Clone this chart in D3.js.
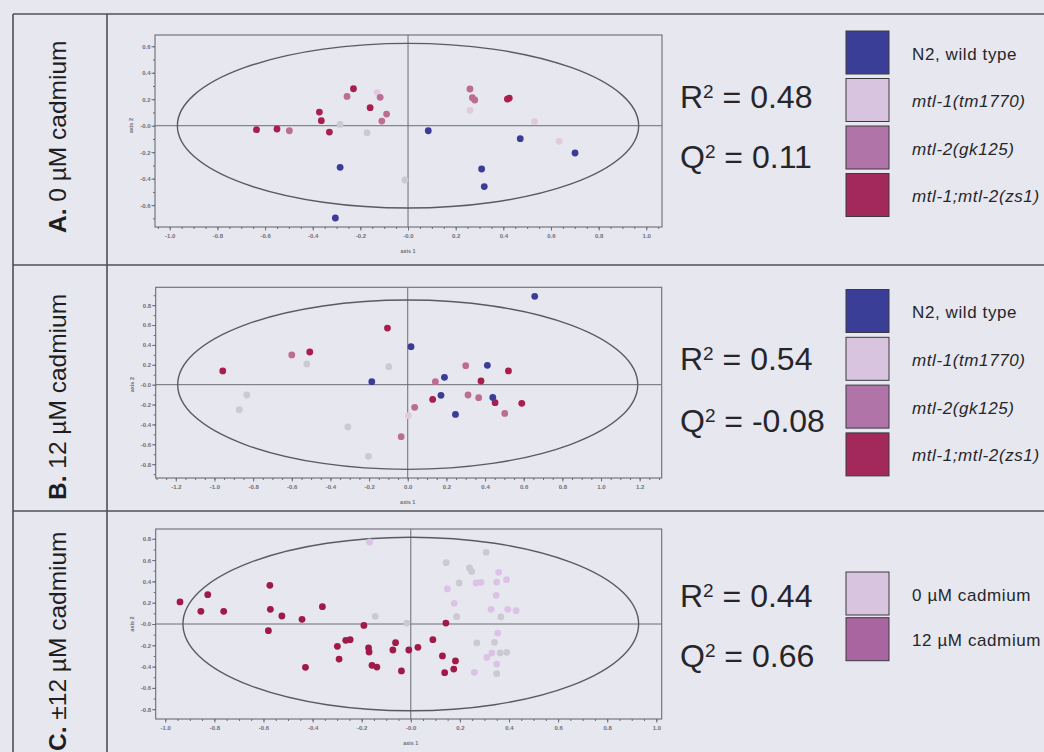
<!DOCTYPE html>
<html>
<head>
<meta charset="utf-8">
<script src="https://cdn.jsdelivr.net/npm/d3@7"></script>
<style>
  body { margin: 0; background: #e7e7ef; }
  svg { display: block; font-family: Arial, "Liberation Sans", sans-serif; }
</style>
</head>
<body>
<div id="chart"></div>
<script>
// Data

const genotypes = ['N2, wild type', 'mtl-1(tm1770)', 'mtl-2(gk125)', 'mtl-1;mtl-2(zs1)'];
const treatments = ['0 µM cadmium', '12 µM cadmium'];

const panelTitles = [['A.', ' 0 µM cadmium'], ['B.', ' 12 µM cadmium'], ['C.', ' ±12 µM cadmium']];
const r2Values = ['0.48', '0.54', '0.44'];
const q2Values = ['0.11', '-0.08', '0.66'];

// panel A: 0 uM cadmium
const aN2 = [[-0.285, -0.314], [-0.305, -0.697], [0.085, -0.038], [0.471, -0.098], [0.701, -0.206], [0.309, -0.327], [0.32, -0.46]];
const aMtl1 = [[-0.129, 0.252], [0.26, 0.116], [0.531, 0.03], [0.634, -0.118]];
const aMtl2 = [[-0.498, -0.038], [-0.256, 0.221], [-0.117, 0.214], [-0.09, 0.088], [-0.11, 0.035], [0.26, 0.277], [0.27, 0.211], [0.28, 0.194]];
const aDouble = [[-0.636, -0.03], [-0.55, -0.025], [-0.372, 0.103], [-0.364, 0.038], [-0.33, -0.048], [-0.229, 0.279], [-0.159, 0.136], [0.417, 0.201], [0.425, 0.209]];
const aFaint = [[-0.285, 0.01], [-0.172, -0.053], [-0.013, -0.41]];

// panel B: 12 uM cadmium
const bN2 = [[0.657, 0.889], [0.017, 0.383], [-0.186, 0.03], [0.19, 0.074], [0.412, 0.195], [0.172, -0.107], [0.44, -0.128], [0.247, -0.299]];
const bMtl1 = [[0.003, -0.312]];
const bMtl2 = [[-0.6, 0.299], [0.3, 0.191], [0.143, 0.03], [0.312, -0.104], [0.367, -0.131], [0.502, -0.289], [0.036, -0.228], [-0.034, -0.523]];
const bDouble = [[-0.957, 0.138], [-0.507, 0.329], [-0.105, 0.57], [0.521, 0.138], [0.379, 0.037], [0.129, -0.148], [0.452, -0.181], [0.59, -0.188]];
const bFaint = [[-0.522, 0.208], [-0.098, 0.181], [-0.833, -0.104], [-0.872, -0.252], [-0.31, -0.426], [-0.203, -0.721]];

// panel C: both concentrations
const c0uM = [[-0.168, 0.77], [0.149, 0.329], [0.177, 0.194], [0.266, 0.385], [0.286, 0.391], [0.358, 0.485], [0.35, 0.394], [0.39, 0.416], [0.348, 0.269], [0.327, 0.138], [0.395, 0.138], [0.429, 0.125], [0.354, -0.085], [0.31, -0.313], [0.33, -0.272], [0.35, -0.376], [0.259, -0.454]];
const c12uM = [[-0.94, 0.207], [-0.827, 0.275], [-0.855, 0.119], [-0.762, 0.119], [-0.574, 0.363], [-0.572, 0.138], [-0.58, -0.063], [-0.525, 0.075], [-0.443, 0.044], [-0.36, 0.163], [-0.429, -0.407], [-0.299, -0.21], [-0.292, -0.329], [-0.265, -0.153], [-0.247, -0.147], [-0.191, -0.013], [-0.172, -0.225], [-0.17, -0.263], [-0.158, -0.388], [-0.138, -0.404], [-0.073, -0.244], [-0.062, -0.175], [-0.038, -0.441], [-0.008, -0.244], [0.029, -0.219], [0.09, -0.147], [0.143, 0.009], [0.129, -0.3], [0.182, -0.347], [0.175, -0.423], [0.138, -0.457]];
const cFaint = [[0.144, 0.576], [0.307, 0.673], [0.197, 0.385], [0.239, 0.526], [0.248, 0.494], [0.187, 0.069], [0.367, 0.066], [-0.145, 0.072], [-0.016, 0.009], [0.269, -0.178], [0.341, -0.172], [0.391, -0.266], [0.364, -0.272], [0.35, -0.466]];

// Hotelling ellipse half axes [axis 1, axis 2]
const ellipseA = [0.968, 0.622];
const ellipseB = [1.19, 0.852];
const ellipseC = [0.928, 0.815];

// tick values and labels
const xTicksA = [-1.0, -0.8, -0.6, -0.4, -0.2, 0, 0.2, 0.4, 0.6, 0.8, 1.0];
const xLabelsA = ['-1.0', '-0.8', '-0.6', '-0.4', '-0.2', '-0.0', '0.2', '0.4', '0.6', '0.8', '1.0'];
const yTicksA = [0.6, 0.4, 0.2, 0, -0.2, -0.4, -0.6];
const yLabelsA = ['0.6', '0.4', '0.2', '-0.0', '-0.2', '-0.4', '-0.6'];
const xTicksB = [-1.2, -1.0, -0.8, -0.6, -0.4, -0.2, 0, 0.2, 0.4, 0.6, 0.8, 1.0, 1.2];
const xLabelsB = ['-1.2', '-1.0', '-0.8', '-0.6', '-0.4', '-0.2', '0.0', '0.2', '0.4', '0.6', '0.8', '1.0', '1.2'];
const yTicksB = [0.8, 0.6, 0.4, 0.2, 0, -0.2, -0.4, -0.6, -0.8];
const yLabelsB = ['0.8', '0.6', '0.4', '0.2', '-0.0', '-0.2', '-0.4', '-0.6', '-0.8'];
const xTicksC = xTicksA;
const xLabelsC = xLabelsA;
const yTicksC = yTicksB;
const yLabelsC = yLabelsB;

// Colours
const swatchColors = ['#3b3e96', '#d8c4de', '#b074a9', '#a3285b'];
const pointColors = ['#3a3c98', '#e2c9e2', '#bd6c92', '#a81e4c'];
const swatchColorsC = ['#d8c4de', '#a9659f'];
const pointColorsC = ['#dcc2e6', '#a01a48'];
const faintColor = '#cacad0';

// Layout
const width = 1044;
const height = 752;

const panels = [
  {
    rowTop: 14, rowBottom: 265, titleY: 233,
    frame: { x0: 155, x1: 662, y0: 35, y1: 227 },
    xDomain: [-1.062, 1.066], yDomain: [-0.765, 0.685],
    xTicks: xTicksA, xLabels: xLabelsA, yTicks: yTicksA, yLabels: yLabelsA,
    ellipse: ellipseA,
    series: [[aFaint, faintColor], [aMtl1, pointColors[1]], [aMtl2, pointColors[2]], [aDouble, pointColors[3]], [aN2, pointColors[0]]],
    r2Y: 108, q2Y: 168,
    legend: { names: genotypes, colors: swatchColors, top: 31, step: 47.5, italic: [false, true, true, true] }
  },
  {
    rowTop: 265, rowBottom: 511, titleY: 500,
    frame: { x0: 155.7, x1: 661.7, y0: 287.3, y1: 478 },
    xDomain: [-1.304, 1.314], yDomain: [-0.939, 0.98],
    xTicks: xTicksB, xLabels: xLabelsB, yTicks: yTicksB, yLabels: yLabelsB,
    ellipse: ellipseB,
    series: [[bFaint, faintColor], [bMtl1, pointColors[1]], [bMtl2, pointColors[2]], [bDouble, pointColors[3]], [bN2, pointColors[0]]],
    r2Y: 370, q2Y: 432,
    legend: { names: genotypes, colors: swatchColors, top: 289.5, step: 47.8, italic: [false, true, true, true] }
  },
  {
    rowTop: 511, rowBottom: 752, titleY: 751,
    frame: { x0: 155.7, x1: 661.7, y0: 529, y1: 719 },
    xDomain: [-1.039, 1.022], yDomain: [-0.892, 0.892],
    xTicks: xTicksC, xLabels: xLabelsC, yTicks: yTicksC, yLabels: yLabelsC,
    ellipse: ellipseC,
    series: [[cFaint, faintColor], [c0uM, pointColorsC[0]], [c12uM, pointColorsC[1]]],
    r2Y: 607, q2Y: 667,
    legend: { names: treatments, colors: swatchColorsC, top: 572, step: 45.7, italic: [false, false] }
  }
];

const svg = d3.select('#chart').append('svg')
  .attr('width', width)
  .attr('height', height);

svg.append('rect').attr('width', width).attr('height', height).attr('fill', '#e7e7ef');

// Table lines
const grid = svg.append('g').attr('stroke', '#505058').attr('stroke-width', 1.6);
[14, 265, 511].forEach((y) => {
  grid.append('line').attr('x1', 13).attr('x2', width).attr('y1', y).attr('y2', y);
});
[13, 107].forEach((x) => {
  grid.append('line').attr('x1', x).attr('x2', x).attr('y1', 14).attr('y2', height);
});

function drawPanel(p, i) {
  const g = svg.append('g');
  const f = p.frame;

  // Row title (rotated)
  const title = g.append('text')
    .attr('transform', `translate(66, ${p.titleY}) rotate(-90)`)
    .attr('font-size', 24.5)
    .attr('fill', '#1e1e22');
  title.append('tspan').attr('font-weight', 'bold').text(panelTitles[i][0]);
  title.append('tspan').text(panelTitles[i][1]);

  // Scales
  const x = d3.scaleLinear().domain(p.xDomain).range([f.x0, f.x1]);
  const y = d3.scaleLinear().domain(p.yDomain).range([f.y1, f.y0]);

  // Frame
  g.append('rect')
    .attr('x', f.x0).attr('y', f.y0)
    .attr('width', f.x1 - f.x0).attr('height', f.y1 - f.y0)
    .attr('fill', 'none').attr('stroke', '#6c6c74').attr('stroke-width', 1.1);

  // Zero lines
  g.append('line')
    .attr('x1', x(0)).attr('x2', x(0)).attr('y1', f.y0).attr('y2', f.y1)
    .attr('stroke', '#6c6c74').attr('stroke-width', 1);
  g.append('line')
    .attr('x1', f.x0).attr('x2', f.x1).attr('y1', y(0)).attr('y2', y(0))
    .attr('stroke', '#6c6c74').attr('stroke-width', 1);

  // Minor ticks
  const xMinor = d3.range(Math.ceil(p.xDomain[0] / 0.05) * 0.05, p.xDomain[1], 0.05);
  const yMinor = d3.range(Math.ceil(p.yDomain[0] / 0.1) * 0.1, p.yDomain[1], 0.1);
  const minorX = g.append('g')
    .attr('transform', `translate(0, ${f.y1})`)
    .call(d3.axisBottom(x).tickValues(xMinor).tickSize(2).tickFormat(''));
  const minorY = g.append('g')
    .attr('transform', `translate(${f.x0}, 0)`)
    .call(d3.axisLeft(y).tickValues(yMinor).tickSize(2).tickFormat(''));

  // X axis
  const xAxis = g.append('g')
    .attr('transform', `translate(0, ${f.y1})`)
    .call(d3.axisBottom(x).tickValues(p.xTicks).tickSize(3.5).tickPadding(3)
      .tickFormat((d, k) => p.xLabels[k]));

  // Y axis
  const yAxis = g.append('g')
    .attr('transform', `translate(${f.x0}, 0)`)
    .call(d3.axisLeft(y).tickValues(p.yTicks).tickSize(3.5).tickPadding(1)
      .tickFormat((d, k) => p.yLabels[k]));

  [minorX, minorY, xAxis, yAxis].forEach((a) => {
    a.select('.domain').remove();
    a.selectAll('line').attr('stroke', '#6c6c74');
    a.selectAll('text').attr('font-size', 6).attr('font-weight', 'bold').attr('fill', '#707078')
      .attr('font-family', 'Arial, sans-serif');
  });

  g.append('text')
    .attr('x', x(0)).attr('y', f.y1 + 26)
    .attr('text-anchor', 'middle')
    .attr('font-size', 5.5).attr('font-weight', 'bold').attr('fill', '#707078')
    .text('axis 1');
  g.append('text')
    .attr('transform', `translate(${f.x0 - 22}, ${y(0)}) rotate(-90)`)
    .attr('text-anchor', 'middle')
    .attr('font-size', 5.5).attr('font-weight', 'bold').attr('fill', '#707078')
    .text('axis 2');

  // Hotelling T2 ellipse
  g.append('ellipse')
    .attr('cx', x(0)).attr('cy', y(0))
    .attr('rx', x(p.ellipse[0]) - x(0))
    .attr('ry', y(0) - y(p.ellipse[1]))
    .attr('fill', 'none').attr('stroke', '#5a5a62').attr('stroke-width', 1.4);

  // Points
  p.series.forEach(([pts, color]) => {
    g.append('g').selectAll('circle')
      .data(pts)
      .enter()
      .append('circle')
      .attr('cx', (d) => x(d[0]))
      .attr('cy', (d) => y(d[1]))
      .attr('r', 3.4)
      .attr('fill', color);
  });

  // R2 / Q2
  [['R', r2Values[i], p.r2Y], ['Q', q2Values[i], p.q2Y]].forEach(([letter, val, ty]) => {
    const t = g.append('text')
      .attr('x', 680).attr('y', ty)
      .attr('font-size', 32).attr('fill', '#26262a');
    t.append('tspan').text(letter);
    t.append('tspan').attr('font-size', 19).attr('dy', -10.5).text('2');
    t.append('tspan').attr('dy', 10.5).text(' = ' + val);
  });

  // Legend
  const lg = p.legend;
  lg.names.forEach((name, k) => {
    const top = lg.top + k * lg.step;
    g.append('rect')
      .attr('x', 846).attr('y', top)
      .attr('width', 43).attr('height', 43)
      .attr('fill', lg.colors[k])
      .attr('stroke', '#3a3a40').attr('stroke-width', 1);
    g.append('text')
      .attr('x', 912).attr('y', top + 28.5)
      .attr('font-size', 17)
      .attr('letter-spacing', 0.6)
      .attr('font-style', lg.italic[k] ? 'italic' : 'normal')
      .attr('fill', '#26262a')
      .text(name);
  });
}

panels.forEach(drawPanel);
</script>
</body>
</html>
